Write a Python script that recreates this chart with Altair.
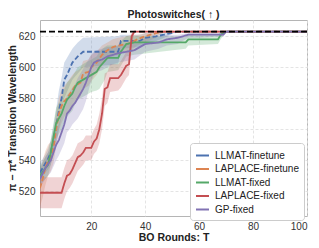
import altair as alt
import pandas as pd

# ---------------- data ----------------
names = ["LLMAT-finetune", "LAPLACE-finetune", "LLMAT-fixed", "LAPLACE-fixed", "GP-fixed"]
colors = ["#4C72B0", "#DD8452", "#55A868", "#C44E52", "#8172B3"]
best_value = 623

t_llmat_ft = [1, 2, 3, 4, 5, 6, 7, 8, 9, 10, 11, 12, 13, 14, 15, 17, 30, 31, 38, 40, 44, 47, 52, 100]
m_llmat_ft = [532, 535, 538, 541, 545, 553, 562, 572, 580, 592, 595, 599, 603, 605, 607, 610, 610, 617, 617, 619, 620, 621, 623, 623]
lo_llmat_ft = [527, 529, 532, 534, 537, 543, 550, 560, 568, 580, 584, 588, 592, 594, 596, 600, 602, 612, 613, 615, 617, 619, 623, 623]
hi_llmat_ft = [538, 541, 544, 548, 553, 562, 573, 585, 593, 603, 606, 609, 612, 614, 616, 619, 620, 621, 621, 622, 622, 623, 623, 623]

t_lap_ft = [1, 2, 3, 4, 5, 6, 7, 8, 9, 10, 11, 13, 14, 16, 17, 19, 20, 22, 24, 26, 28, 30, 33, 35, 37, 40, 44, 47, 100]
m_lap_ft = [522, 528, 535, 540, 542, 548, 560, 570, 575, 578, 580, 585, 588, 590, 596, 597, 600, 603, 608, 611, 613, 614, 615, 616, 618, 620, 622, 623, 623]
lo_lap_ft = [510, 516, 524, 530, 533, 538, 549, 559, 564, 568, 570, 575, 578, 581, 586, 588, 591, 595, 601, 605, 607, 608, 610, 611, 614, 616, 619, 623, 623]
hi_lap_ft = [534, 540, 546, 550, 552, 558, 570, 580, 586, 588, 590, 595, 597, 599, 604, 605, 608, 610, 614, 616, 618, 619, 620, 621, 621, 622, 623, 623, 623]

t_llmat_fx = [1, 3, 4, 5, 6, 7, 8, 9, 10, 11, 13, 14, 15, 16, 18, 20, 22, 23, 25, 26, 30, 31, 33, 36, 55, 56, 67, 68, 70, 100]
m_llmat_fx = [530, 535, 537, 545, 555, 564, 567, 570, 575, 579, 583, 587, 590, 591, 593, 595, 597, 600, 604, 606, 606, 610, 615, 616, 616, 618, 618, 621, 623, 623]
lo_llmat_fx = [524, 528, 530, 537, 546, 554, 557, 560, 564, 568, 572, 576, 579, 580, 582, 584, 585, 586, 592, 597, 598, 601, 607, 608, 612, 614, 615, 618, 623, 623]
hi_llmat_fx = [536, 542, 545, 553, 564, 574, 577, 580, 586, 590, 594, 597, 600, 601, 603, 605, 607, 610, 613, 614, 614, 617, 620, 620, 620, 621, 621, 623, 623, 623]

t_lap_fx = [1, 9, 10, 11, 12, 13, 14, 15, 16, 17, 18, 20, 21, 22, 23, 24, 25, 26, 27, 30, 31, 32, 33, 34, 35, 36, 100]
m_lap_fx = [519, 519, 525, 530, 531, 534, 538, 542, 543, 545, 548, 548, 552, 554, 560, 570, 586, 587, 593, 593, 595, 598, 601, 602, 620, 623, 623]
lo_lap_fx = [509, 509, 515, 520, 522, 525, 529, 533, 535, 537, 540, 540, 544, 546, 551, 560, 575, 577, 584, 585, 587, 590, 593, 595, 614, 623, 623]
hi_lap_fx = [529, 529, 535, 540, 541, 543, 547, 551, 552, 553, 556, 556, 560, 563, 570, 580, 596, 597, 602, 602, 604, 607, 610, 611, 623, 623, 623]

t_gp = [1, 3, 5, 6, 7, 8, 9, 10, 11, 12, 13, 14, 15, 16, 17, 18, 19, 20, 21, 22, 24, 26, 28, 30, 33, 36, 40, 45, 48, 52, 56, 60, 69, 70, 100]
m_gp = [528, 535, 540, 545, 550, 553, 558, 563, 570, 572, 575, 577, 580, 583, 586, 590, 595, 600, 603, 604, 605, 607, 608, 609, 610, 611, 615, 616, 618, 619, 621, 621, 621, 623, 623]
lo_gp = [522, 528, 532, 536, 540, 543, 547, 551, 558, 560, 563, 565, 567, 570, 573, 578, 585, 591, 595, 597, 598, 600, 602, 603, 604, 605, 610, 612, 614, 615, 619, 619, 620, 623, 623]
hi_gp = [534, 542, 548, 554, 560, 563, 569, 575, 582, 584, 587, 589, 593, 596, 599, 602, 605, 608, 610, 611, 612, 613, 613, 614, 615, 616, 619, 620, 621, 621, 622, 622, 622, 623, 623]

x_ticks = [20, 40, 60, 80, 100]
y_ticks = [520, 540, 560, 580, 600, 620]

series = [
    (names[0], t_llmat_ft, m_llmat_ft, lo_llmat_ft, hi_llmat_ft),
    (names[1], t_lap_ft, m_lap_ft, lo_lap_ft, hi_lap_ft),
    (names[2], t_llmat_fx, m_llmat_fx, lo_llmat_fx, hi_llmat_fx),
    (names[3], t_lap_fx, m_lap_fx, lo_lap_fx, hi_lap_fx),
    (names[4], t_gp, m_gp, lo_gp, hi_gp),
]
rows = []
for name, ts, ms, los, his in series:
    for t, m, lo, hi in zip(ts, ms, los, his):
        rows.append({"series": name, "T": t, "mean": m, "lo": lo, "hi": hi})
df = pd.DataFrame(rows)

FONT = "Liberation Sans"
xscale = alt.Scale(domain=[1, 100], nice=False, zero=False)
yscale = alt.Scale(domain=[504, 630.5], nice=False, zero=False)
xaxis = alt.Axis(values=x_ticks, title="BO Rounds: T", labelPadding=5, titlePadding=1)
yaxis = alt.Axis(values=y_ticks, title="π − π* Transition Wavelength", labelPadding=5, titlePadding=1)
color_scale = alt.Scale(domain=names, range=colors)
dash_scale = alt.Scale(domain=names, range=[[5, 2.5], [5, 2.5], [1, 0], [1, 0], [1, 0]])

legend = alt.Legend(
    title=None, orient="none", legendX=150, legendY=123,
    symbolType="stroke", symbolSize=169, symbolStrokeWidth=2,
    labelFont=FONT, labelFontSize=10, labelColor="#222",
    rowPadding=0.5, padding=5, fillColor="white", strokeColor="#cccccc",
    cornerRadius=3, labelOffset=5,
)

bands = alt.Chart(df).mark_area(opacity=0.25, clip=True).encode(
    x=alt.X("T:Q", scale=xscale, axis=xaxis),
    y=alt.Y("lo:Q", scale=yscale, axis=yaxis),
    y2="hi:Q",
    fill=alt.Fill("series:N", scale=color_scale, legend=None),
    detail="series:N",
)

lines = alt.Chart(df).mark_line(strokeWidth=1.8, clip=True).encode(
    x=alt.X("T:Q", scale=xscale, axis=xaxis),
    y=alt.Y("mean:Q", scale=yscale, axis=yaxis),
    stroke=alt.Stroke("series:N", scale=color_scale, legend=legend),
    strokeDash=alt.StrokeDash("series:N", scale=dash_scale, legend=None),
)

best = alt.Chart(pd.DataFrame({"best": [best_value]})).mark_rule(
    color="black", strokeDash=[6, 3], strokeWidth=1.8
).encode(y=alt.Y("best:Q", scale=yscale, axis=yaxis))

chart = alt.layer(bands, lines, best).resolve_scale(
    fill="independent", stroke="independent"
).properties(
    width=267, height=196,
    title=alt.TitleParams("Photoswitches( ↑ )", font=FONT, fontSize=10.5,
                          fontWeight="bold", color="#222", offset=0, anchor="middle"),
    autosize=alt.AutoSizeParams(type="none"),
    padding={"left": 32, "top": 12, "right": 4, "bottom": 30},
).configure_view(
    stroke="#b5b5b5", strokeWidth=1
).configure_axis(
    grid=True, gridColor="#dddddd", gridDash=[3, 2], gridWidth=0.8,
    domain=False, ticks=False,
    labelFont=FONT, labelFontSize=10, labelColor="#333",
    titleFont=FONT, titleFontSize=10.5, titleFontWeight="bold", titleColor="#222",
)

chart.save("out.html", embed_options={"renderer": "svg", "actions": False})
